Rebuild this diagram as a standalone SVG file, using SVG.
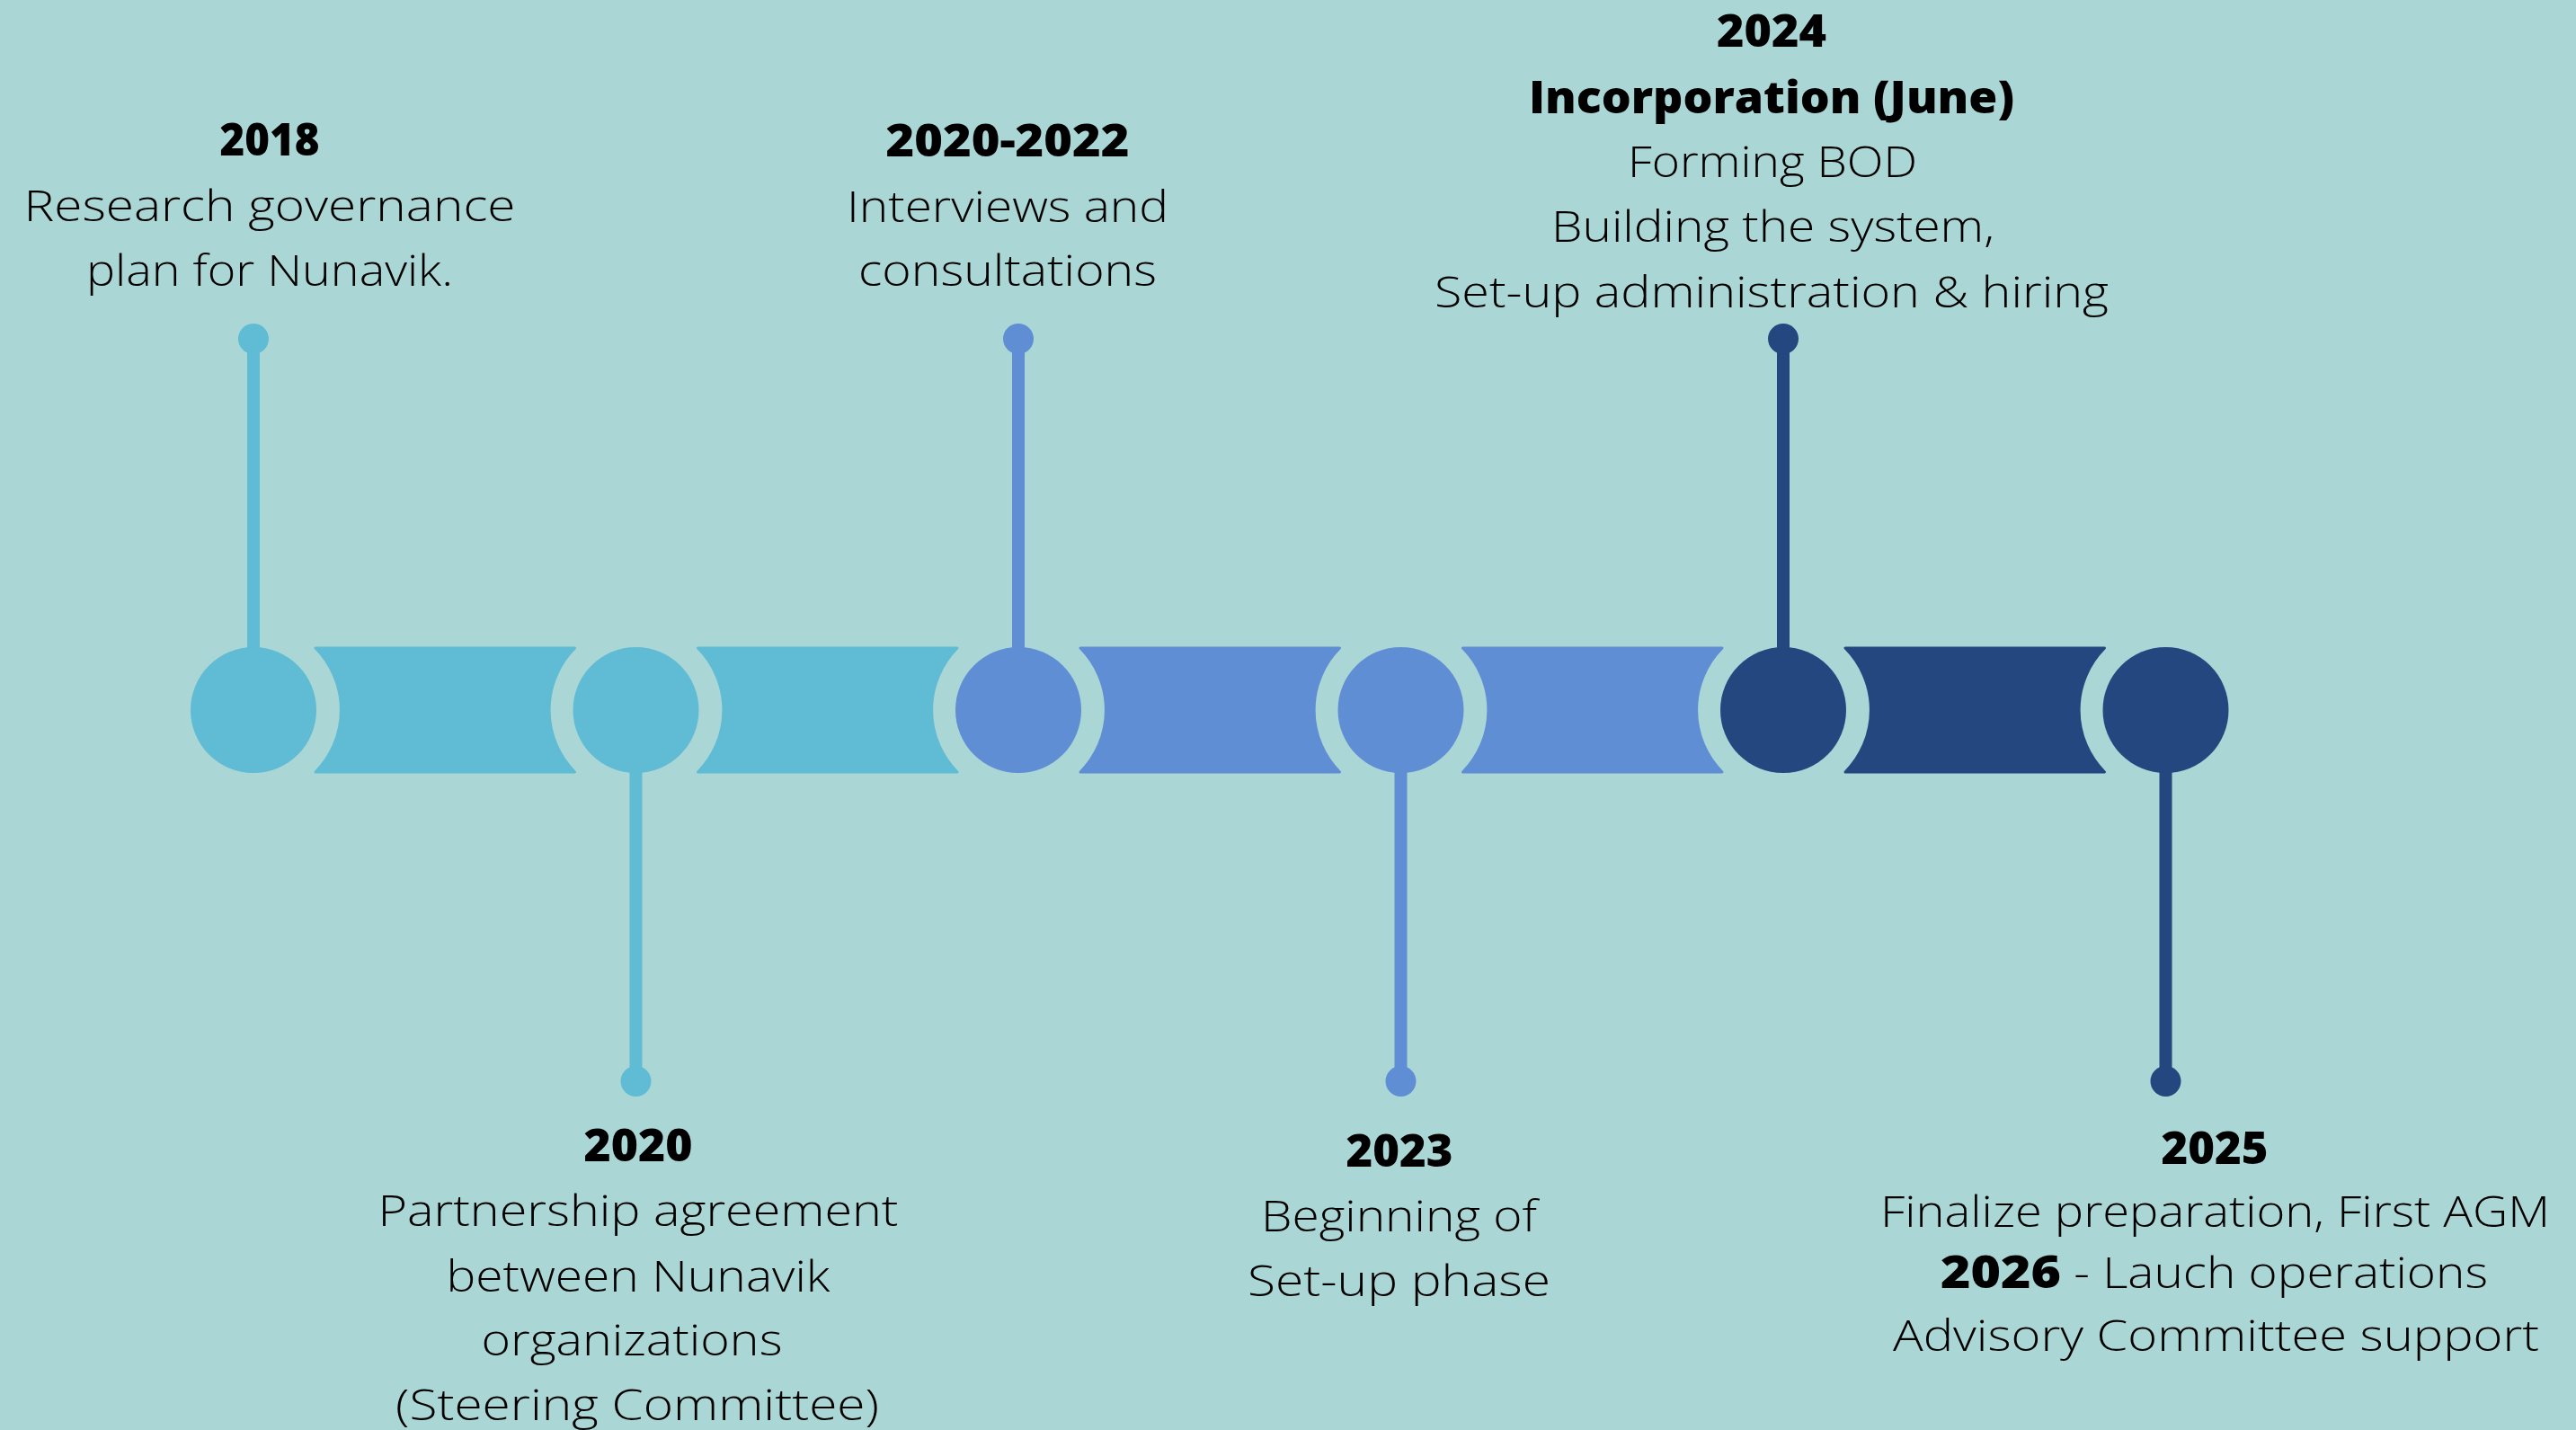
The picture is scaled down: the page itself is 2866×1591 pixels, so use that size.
<svg xmlns="http://www.w3.org/2000/svg" width="2866" height="1591" viewBox="0 0 2866 1591">
<style>
.bg{fill:#AAD7D5}
.c1{fill:#60BBD4}
.c2{fill:#5F8ED4}
.c3{fill:#24477F}
.s1{stroke:#60BBD4}
.s2{stroke:#5F8ED4}
.s3{stroke:#24477F}
.stem{stroke-width:14;fill:none}
.bar{stroke-width:3;stroke-linejoin:round}
text{font-family:"Open Sans","Liberation Sans",sans-serif;fill:#000;text-anchor:middle}
.yr{font-size:50px;font-weight:800}
.tx{font-size:48px;font-weight:300}
</style>
<rect class="bg" x="0" y="0" width="2866" height="1591"/>
<g id="connectors">
<path class="bar c1 s1" d="M351,721 L639.5,721 A98,98 0 0 0 639.5,859 L351,859 A98,98 0 0 0 351,721 Z"/>
<path class="bar c1 s1" d="M776.5,721 L1065,721 A98,98 0 0 0 1065,859 L776.5,859 A98,98 0 0 0 776.5,721 Z"/>
<path class="bar c2 s2" d="M1202,721 L1490.5,721 A98,98 0 0 0 1490.5,859 L1202,859 A98,98 0 0 0 1202,721 Z"/>
<path class="bar c2 s2" d="M1627.5,721 L1916,721 A98,98 0 0 0 1916,859 L1627.5,859 A98,98 0 0 0 1627.5,721 Z"/>
<path class="bar c3 s3" d="M2053,721 L2341.5,721 A98,98 0 0 0 2341.5,859 L2053,859 A98,98 0 0 0 2053,721 Z"/>
</g>
<g id="m2018">
<line class="stem s1" x1="282" y1="377" x2="282" y2="790"/>
<circle class="c1" cx="282" cy="377" r="17"/>
<circle class="c1" cx="282" cy="790" r="70"/>
<text class="yr" x="300" y="173" textLength="111" lengthAdjust="spacingAndGlyphs">2018</text>
<text class="tx" x="300" y="246" textLength="547" lengthAdjust="spacingAndGlyphs">Research governance</text>
<text class="tx" x="300" y="318" textLength="408" lengthAdjust="spacingAndGlyphs">plan for Nunavik.</text>
</g>
<g id="m2020">
<line class="stem s1" x1="707.5" y1="790" x2="707.5" y2="1203"/>
<circle class="c1" cx="707.5" cy="1203" r="17"/>
<circle class="c1" cx="707.5" cy="790" r="70"/>
<text class="yr" x="710" y="1292" textLength="121" lengthAdjust="spacingAndGlyphs">2020</text>
<text class="tx" x="710" y="1364" textLength="579" lengthAdjust="spacingAndGlyphs">Partnership agreement</text>
<text class="tx" x="710" y="1437" textLength="427" lengthAdjust="spacingAndGlyphs">between Nunavik</text>
<text class="tx" x="703" y="1508" textLength="335" lengthAdjust="spacingAndGlyphs">organizations</text>
<text class="tx" x="709" y="1580" textLength="538" lengthAdjust="spacingAndGlyphs">(Steering Committee)</text>
</g>
<g id="m2020-2022">
<line class="stem s2" x1="1133" y1="377" x2="1133" y2="790"/>
<circle class="c2" cx="1133" cy="377" r="17"/>
<circle class="c2" cx="1133" cy="790" r="70"/>
<text class="yr" x="1121" y="174" textLength="271" lengthAdjust="spacingAndGlyphs">2020-2022</text>
<text class="tx" x="1121" y="247" textLength="358" lengthAdjust="spacingAndGlyphs">Interviews and</text>
<text class="tx" x="1121" y="318" textLength="332" lengthAdjust="spacingAndGlyphs">consultations</text>
</g>
<g id="m2023">
<line class="stem s2" x1="1558.5" y1="790" x2="1558.5" y2="1203"/>
<circle class="c2" cx="1558.5" cy="1203" r="17"/>
<circle class="c2" cx="1558.5" cy="790" r="70"/>
<text class="yr" x="1557" y="1298" textLength="119" lengthAdjust="spacingAndGlyphs">2023</text>
<text class="tx" x="1556.5" y="1370" textLength="307" lengthAdjust="spacingAndGlyphs">Beginning of</text>
<text class="tx" x="1556.5" y="1442" textLength="337" lengthAdjust="spacingAndGlyphs">Set-up phase</text>
</g>
<g id="m2024">
<line class="stem s3" x1="1984" y1="377" x2="1984" y2="790"/>
<circle class="c3" cx="1984" cy="377" r="17"/>
<circle class="c3" cx="1984" cy="790" r="70"/>
<text class="yr" x="1971" y="52" textLength="122" lengthAdjust="spacingAndGlyphs">2024</text>
<text class="yr" x="1971" y="126" textLength="540" lengthAdjust="spacingAndGlyphs">Incorporation (June)</text>
<text class="tx" x="1972" y="197" textLength="322" lengthAdjust="spacingAndGlyphs">Forming BOD</text>
<text class="tx" x="1972.5" y="269" textLength="493" lengthAdjust="spacingAndGlyphs">Building the system,</text>
<text class="tx" x="1971" y="342" textLength="750" lengthAdjust="spacingAndGlyphs">Set-up administration &amp; hiring</text>
</g>
<g id="m2025">
<line class="stem s3" x1="2409.5" y1="790" x2="2409.5" y2="1203"/>
<circle class="c3" cx="2409.5" cy="1203" r="17"/>
<circle class="c3" cx="2409.5" cy="790" r="70"/>
<text class="yr" x="2464" y="1295" textLength="119" lengthAdjust="spacingAndGlyphs">2025</text>
<text class="tx" x="2464.5" y="1365" textLength="745" lengthAdjust="spacingAndGlyphs">Finalize preparation, First AGM</text>
<text class="tx" x="2463.5" y="1433" textLength="609" lengthAdjust="spacingAndGlyphs"><tspan style="font-weight:800;font-size:50px">2026</tspan> - Lauch operations</text>
<text class="tx" x="2465.5" y="1503" textLength="719" lengthAdjust="spacingAndGlyphs">Advisory Committee support</text>
</g>
</svg>
